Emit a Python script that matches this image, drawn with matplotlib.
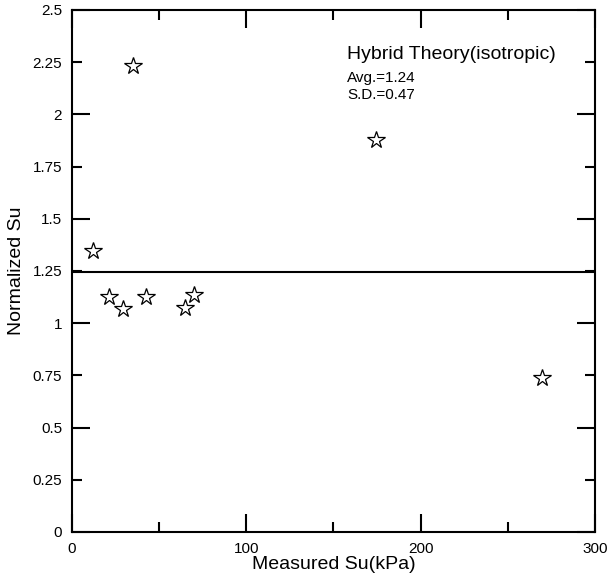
import matplotlib
matplotlib.use("Agg")
import matplotlib.pyplot as plt
from matplotlib.ticker import MultipleLocator, FixedLocator, FuncFormatter

plt.rcParams['font.family'] = ['Liberation Sans', 'DejaVu Sans']

# measured Su (kPa) vs normalized Su, hybrid theory (isotropic)
measured_su = [12.0, 35.0, 21.2, 29.3, 42.4, 64.8, 70.0, 174.4, 269.6]
normalized_su = [1.346, 2.232, 1.125, 1.068, 1.125, 1.073, 1.135, 1.877, 0.737]
avg_value = 1.245
note_lines = ["Hybrid Theory(isotropic)", "Avg.=1.24", "S.D.=0.47"]

fig = plt.figure(figsize=(6.08, 5.83), dpi=100)
ax = fig.add_axes([0.118, 0.0875, 0.861, 0.8955])

ax.plot(measured_su, normalized_su, linestyle='none', marker='*',
        markersize=13, markerfacecolor='none', markeredgecolor='black',
        markeredgewidth=0.9)
ax.axhline(avg_value, color='black', lw=1.5)

ax.set_xlim(0, 300)
ax.set_ylim(0, 2.5)

ax.xaxis.set_major_locator(MultipleLocator(100))
ax.xaxis.set_minor_locator(MultipleLocator(50))
ax.yaxis.set_major_locator(MultipleLocator(0.5))
ax.yaxis.set_minor_locator(FixedLocator([0.25, 0.75, 1.25, 1.75, 2.25]))
fmt = FuncFormatter(lambda v, p: '%g' % v)
ax.yaxis.set_major_formatter(fmt)
ax.yaxis.set_minor_formatter(fmt)

ax.tick_params(which='both', direction='in', top=True, right=True,
               width=1.5, labelsize=11, pad=7)
ax.tick_params(which='major', length=13)
ax.tick_params(which='minor', length=7)
for s in ax.spines.values():
    s.set_linewidth(1.5)

ax.set_xlabel("Measured Su(kPa)", fontsize=14, labelpad=0)
ax.set_ylabel("Normalized Su", fontsize=14, labelpad=5)

ax.text(158, 2.265, note_lines[0], fontsize=14)
ax.text(158, 2.155, note_lines[1], fontsize=11)
ax.text(158, 2.074, note_lines[2], fontsize=11)

fig.savefig("out.png", dpi=100)
